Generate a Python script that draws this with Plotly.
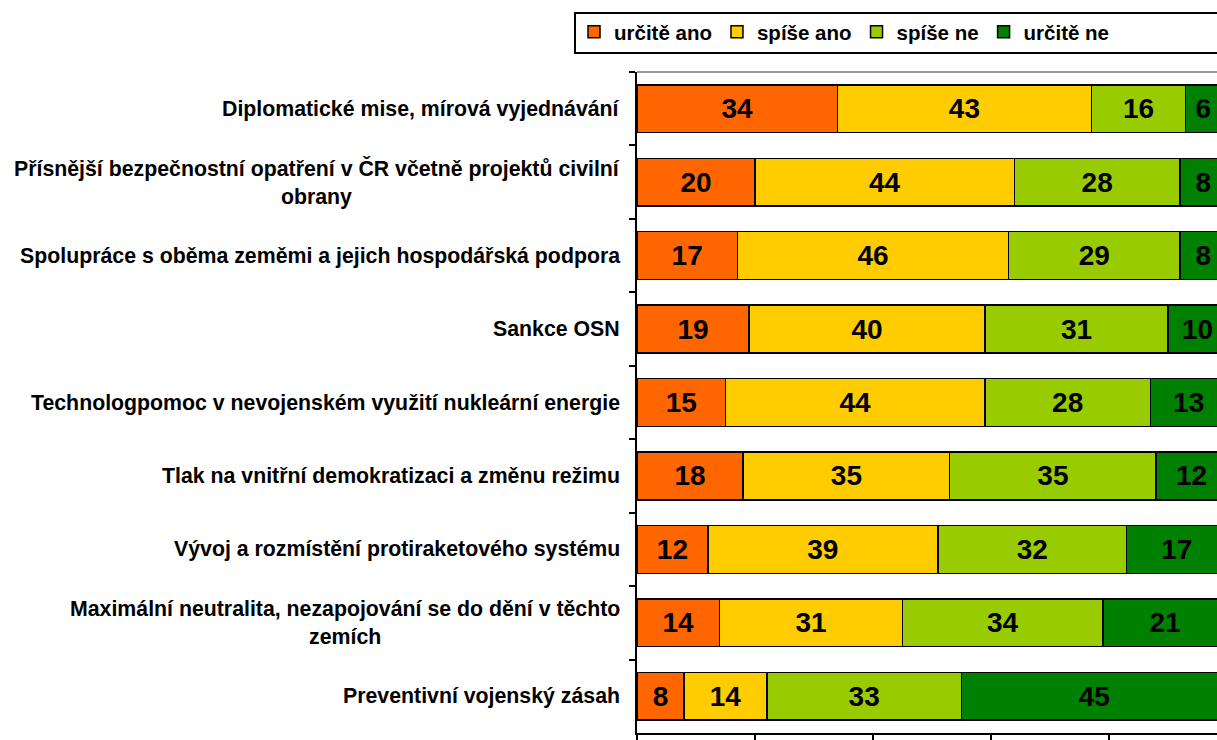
import plotly.graph_objects as go

categories = [
    "Diplomatické mise, mírová vyjednávání",
    "Přísnější bezpečnostní opatření v ČR včetně projektů civilní<br>obrany",
    "Spolupráce s oběma zeměmi a jejich hospodářská podpora",
    "Sankce OSN",
    "Technologpomoc v nevojenském využití nukleární energie",
    "Tlak na vnitřní demokratizaci a změnu režimu",
    "Vývoj a rozmístění protiraketového systému",
    "Maximální neutralita, nezapojování se do dění v těchto<br>zemích",
    "Preventivní vojenský zásah",
]
series_names = ["určitě ano", "spíše ano", "spíše ne", "určitě ne"]
urcite_ano = [34, 20, 17, 19, 15, 18, 12, 14, 8]
spise_ano = [43, 44, 46, 40, 44, 35, 39, 31, 14]
spise_ne = [16, 28, 29, 31, 28, 35, 32, 34, 33]
urcite_ne = [6, 8, 8, 10, 13, 12, 17, 21, 45]
x_ticks = [0, 20, 40, 60, 80, 100]

colors = ["#FF6600", "#FFCC00", "#99CC00", "#008000"]
FONT = "Liberation Sans, Arial, sans-serif"

W, H = 1217, 740
ML, MR, MT, MB = 637, 0, 72, 7
PW, PH = W - ML - MR, H - MT - MB
px_per_unit = 5.9  # 118 px per 20 %
x_max = PW / px_per_unit

fig = go.Figure()
for name, vals, col in zip(series_names, [urcite_ano, spise_ano, spise_ne, urcite_ne], colors):
    fig.add_trace(go.Bar(
        y=categories, x=vals, name=name, orientation="h",
        marker=dict(color=col, line=dict(color="black", width=1.5)),
        text=[str(v) for v in vals], textposition="inside",
        insidetextanchor="middle", constraintext="none", textangle=0,
        textfont=dict(family=FONT, size=28, color="black", weight="bold"),
        hoverinfo="skip",
    ))

for c in categories:
    fig.add_annotation(
        x=0, xref="paper", y=c, yref="y", xanchor="right", xshift=-15,
        text=c, showarrow=False, align="center",
        font=dict(family=FONT, size=21.3, color="black", weight="bold"),
    )

# grey top border of plot area
fig.add_shape(type="line", xref="paper", yref="paper", x0=0, x1=1, y0=1, y1=1,
              line=dict(color="#999999", width=2))

# legend frame (runs past the right edge, as in the reference)
fig.add_shape(type="rect", xref="paper", yref="paper",
              x0=(575 - ML) / PW, x1=(1230 - ML) / PW,
              y0=(H - MB - 53) / PH, y1=(H - MB - 13) / PH,
              line=dict(color="black", width=2), fillcolor="rgba(0,0,0,0)", layer="above")

fig.update_layout(
    width=W, height=H,
    margin=dict(l=ML, r=MR, t=MT, b=MB),
    barmode="stack", bargap=0.35,
    plot_bgcolor="white", paper_bgcolor="white",
    showlegend=True,
    legend=dict(
        orientation="h", xref="container", yref="container", traceorder="normal",
        x=574 / W, y=1 - 12 / H, xanchor="left", yanchor="top",
        borderwidth=0, bgcolor="rgba(0,0,0,0)",
        font=dict(family=FONT, size=20.5, color="black", weight="bold"),
        itemclick=False, itemdoubleclick=False,
    ),
    xaxis=dict(
        range=[0, x_max], tickvals=x_ticks, showticklabels=False,
        showgrid=False, zeroline=False, showline=True, linecolor="black", linewidth=2,
        ticks="outside", ticklen=7, tickwidth=1.5, tickcolor="black",
    ),
    yaxis=dict(
        autorange="reversed", showticklabels=False, showgrid=False,
        showline=True, linecolor="black", linewidth=2,
        ticks="outside", tickson="boundaries", ticklen=6, tickwidth=1.5, tickcolor="black",
    ),
)

fig.write_html("out.html", config={"displayModeBar": False},
               post_script="document.body.style.margin='0';document.body.style.overflow='hidden';")
